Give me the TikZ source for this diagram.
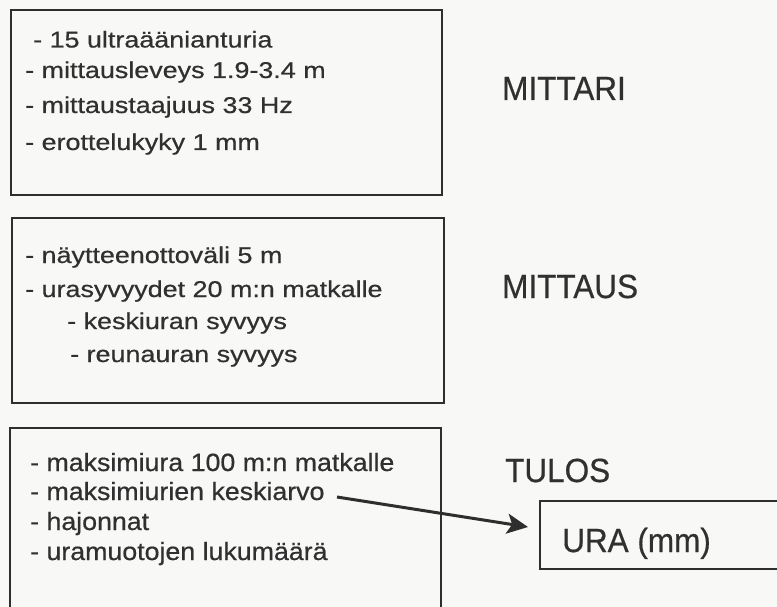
\documentclass[tikz,border=0pt]{standalone}
\usepackage{fontspec}
\setmainfont{Liberation Sans}
\newfontfamily\bodyA[FakeStretch=1.18,FakeBold=0.6]{Liberation Sans}
\newfontfamily\bodyB[FakeStretch=1.07,FakeBold=0.6]{Liberation Sans}
\newfontfamily\headF[FakeStretch=0.94,FakeBold=0.5]{Liberation Sans}
\usetikzlibrary{arrows.meta}
\definecolor{linec}{HTML}{2E2E2E}
\definecolor{txt}{HTML}{303030}
\definecolor{bg}{HTML}{F8F8F7}
\begin{document}
\begin{tikzpicture}[x=1pt,y=-1pt,
  boxline/.style={draw=linec, line width=2pt},
  ta/.style={anchor=base west, inner sep=0pt, text=txt, font=\bodyA\fontsize{22.8}{27}\selectfont},
  tb/.style={anchor=base west, inner sep=0pt, text=txt, font=\bodyB\fontsize{25}{30}\selectfont},
  head/.style={anchor=base west, inner sep=0pt, text=txt, font=\headF\fontsize{33.5}{40}\selectfont},
  conn/.style={draw=linec, line width=3pt, -{Stealth[length=21pt,width=20pt,inset=5pt]}}]
\useasboundingbox (0,0) rectangle (777,607);
\fill[bg] (0,0) rectangle (777,607);
\clip (0,0) rectangle (777,607);
% boxes
\draw[boxline] (11,10) rectangle (442,195);
\draw[boxline] (12,218) rectangle (444,403);
\draw[boxline] (10,428) rectangle (441,640);
\draw[boxline] (540,501) rectangle (800,569);
% box 1
\node[ta] (a1) at (33,47.5) {- 15 ultraäänianturia};
\node[ta] (a2) at (25,78) {- mittausleveys 1.9-3.4 m};
\node[ta] (a3) at (25,113) {- mittaustaajuus 33 Hz};
\node[ta] (a4) at (25,150) {- erottelukyky 1 mm};
% box 2
\node[ta] (m1) at (25,263) {- näytteenottoväli 5 m};
\node[ta] (m2) at (25,297) {- urasyvyydet 20 m:n matkalle};
\node[ta] (m3) at (67,329) {- keskiuran syvyys};
\node[ta] (m4) at (70,362) {- reunauran syvyys};
% box 3
\node[tb] (t1) at (30,471) {- maksimiura 100 m:n matkalle};
\node[tb] (t2) at (30,500) {- maksimiurien keskiarvo};
\node[tb] (t3) at (30,530) {- hajonnat};
\node[tb] (t4) at (30,560) {- uramuotojen lukumäärä};
% headings
\node[head] (h1) at (502,100) {MITTARI};
\node[head] (h2) at (502,298) {MITTAUS};
\node[head] (h3) at (505,482) {TULOS};
\node[head] (ura) at (562,552) {URA (mm)};
% arrow
\coordinate (as) at (337,497);
\coordinate (ae) at (528,527);
\draw[conn] (as) -- (ae);
\end{tikzpicture}
\end{document}
